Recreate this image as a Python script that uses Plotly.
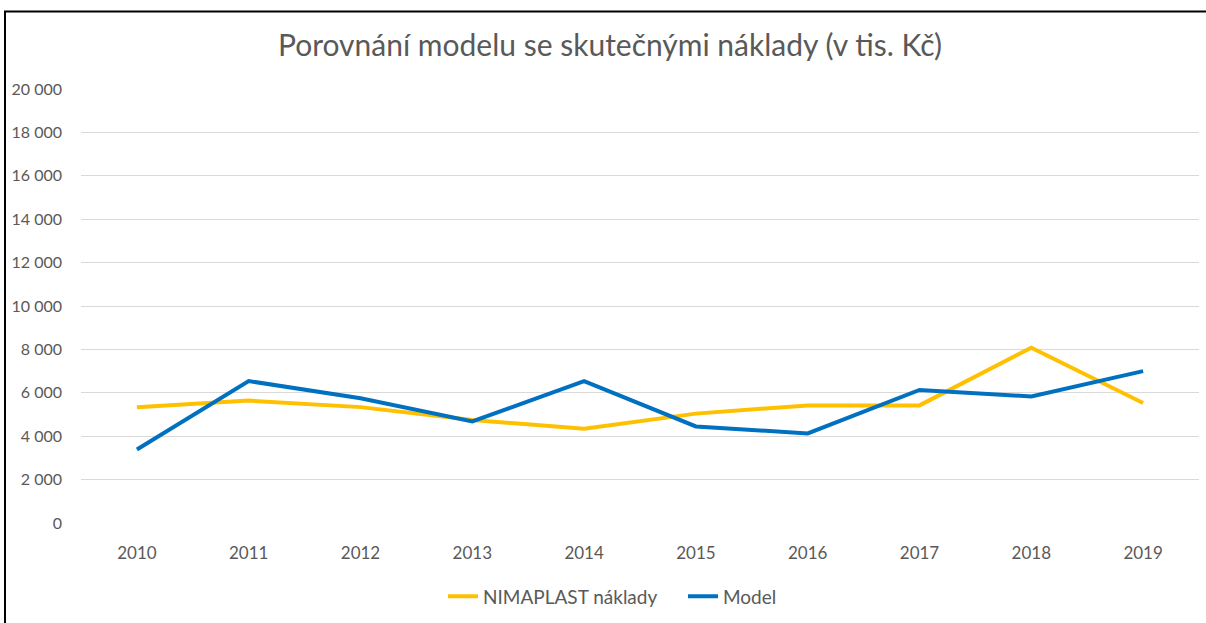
import plotly.graph_objects as go

years = ["2010", "2011", "2012", "2013", "2014", "2015", "2016", "2017", "2018", "2019"]
nimaplast = [5330, 5640, 5340, 4750, 4340, 5040, 5420, 5420, 8080, 5530]
model = [3390, 6540, 5750, 4680, 6540, 4450, 4130, 6130, 5830, 7000]
y_tickvals = [0, 2000, 4000, 6000, 8000, 10000, 12000, 14000, 16000, 18000, 20000]
y_ticktext = ["0", "2 000", "4 000", "6 000", "8 000", "10 000", "12 000", "14 000", "16 000", "18 000", "20 000"]

W, H = 1206, 623
L, R, T, B = 81, 7, 89, 97
pw, ph = W - L - R, H - T - B

def px(x):
    return (x - L) / pw

def py(y):
    return (H - B - y) / ph

FONT = "Lato, Open Sans, sans-serif"
GRAY = "#595959"

fig = go.Figure()
fig.add_trace(go.Scatter(x=years, y=nimaplast, mode="lines", name="NIMAPLAST náklady",
                         line=dict(color="#FFC000", width=4)))
fig.add_trace(go.Scatter(x=years, y=model, mode="lines", name="Model",
                         line=dict(color="#0070C0", width=4)))

fig.update_layout(
    width=W, height=H,
    margin=dict(l=L, r=R, t=T, b=B, pad=0),
    paper_bgcolor="white", plot_bgcolor="white",
    font=dict(family=FONT, color=GRAY, size=12),
    title=dict(text="Porovnání modelu se skutečnými náklady (v tis. Kč)",
               x=px(610), xref="paper", xanchor="center",
               y=1 - 45 / H, yref="container", yanchor="middle",
               font=dict(family=FONT, size=30, color=GRAY)),
    showlegend=True,
    legend=dict(orientation="h", x=px(443), xanchor="left", y=py(600), yanchor="middle",
                font=dict(family=FONT, size=19, color=GRAY), bgcolor="rgba(0,0,0,0)",
                itemwidth=30, entrywidth=195, entrywidthmode="pixels"),
    xaxis=dict(type="category", showgrid=False, zeroline=False, showline=False,
               ticks="", tickfont=dict(family=FONT, size=17, color=GRAY),
               ticklabelstandoff=18, range=[-0.5, 9.5]),
    yaxis=dict(range=[0, 20000], tickvals=y_tickvals, ticktext=y_ticktext,
               showgrid=True, gridcolor="#D9D9D9", gridwidth=1, zeroline=False,
               showline=False, ticks="", tickfont=dict(family=FONT, size=16, color=GRAY),
               ticklabelstandoff=18),
    shapes=[
        dict(type="line", xref="paper", yref="paper", x0=px(5), x1=px(5), y0=py(11), y1=py(640),
             line=dict(color="black", width=2)),
        dict(type="line", xref="paper", yref="paper", x0=px(4), x1=px(1215), y0=py(11), y1=py(11),
             line=dict(color="black", width=2)),
    ],
)

fig.write_html("out.html", config={"displayModeBar": False},
               post_script="document.body.style.margin='0';document.body.style.overflow='hidden';")
